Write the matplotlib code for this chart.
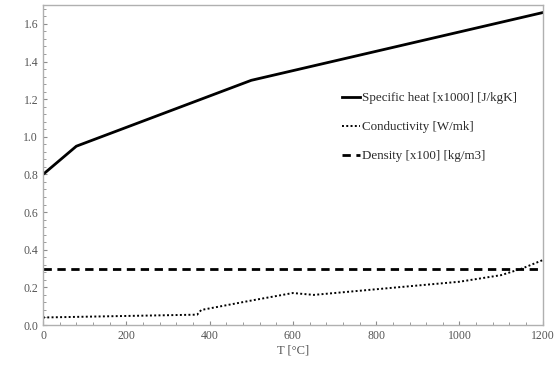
import numpy as np
import matplotlib.pyplot as plt
from matplotlib.ticker import AutoMinorLocator

plt.rcParams['font.family'] = ['Liberation Serif', 'DejaVu Serif']

# Temperatura y propiedades del material
T_cp = [0, 80, 500, 1200]
cp = [0.80, 0.95, 1.30, 1.66]          # calor especifico [x1000] J/kgK

T_k = [0, 370, 380, 500, 600, 650, 800, 1000, 1100, 1150, 1200]
k = [0.04, 0.055, 0.08, 0.13, 0.17, 0.16, 0.19, 0.23, 0.265, 0.30, 0.345]  # W/mK

T_rho = [0, 1200]
rho = [0.30, 0.30]                     # densidad [x100] kg/m3

gris = "#8c8c8c"
texto = "#555555"

fig = plt.figure(figsize=(5.55, 3.76), dpi=100)
ax = fig.add_axes([0.0775, 0.1356, 0.9005, 0.851])

ax.plot(T_cp, cp, "-", color="black", lw=2.0, label="Specific heat [x1000] [J/kgK]")
ax.plot(T_k, k, "-", color="black", lw=1.4, dashes=(1, 1.2), label="Conductivity [W/mk]")
ax.plot(T_rho, rho, "--", color="black", lw=2.0, dashes=(3, 2), label="Density [x100] [kg/m3]")

ax.set_xlim(0, 1200)
ax.set_ylim(0, 1.7)
ax.set_xticks(np.arange(0, 1201, 200))
ax.set_yticks(np.arange(0, 1.61, 0.2))
ax.set_yticklabels(["%.1f" % v for v in np.arange(0, 1.61, 0.2)])
ax.xaxis.set_minor_locator(AutoMinorLocator(5))
ax.yaxis.set_minor_locator(AutoMinorLocator(5))
ax.tick_params(which="both", direction="in", colors=gris, labelcolor=texto,
               labelsize=8.5, top=False, right=False)
ax.tick_params(which="major", length=3)
ax.tick_params(which="minor", length=2)
for s in ax.spines.values():
    s.set_color("#b0b0b0")
    s.set_linewidth(1.0)

ax.set_xlabel("T [°C]", fontsize=9, color=texto, labelpad=2)

ax.legend(loc="upper left", bbox_to_anchor=(0.575, 0.765), frameon=False,
          fontsize=9.4, handlelength=1.4, handletextpad=0.1, labelspacing=1.3,
          labelcolor="#2a2a2a")

fig.savefig("out.png", dpi=100)
